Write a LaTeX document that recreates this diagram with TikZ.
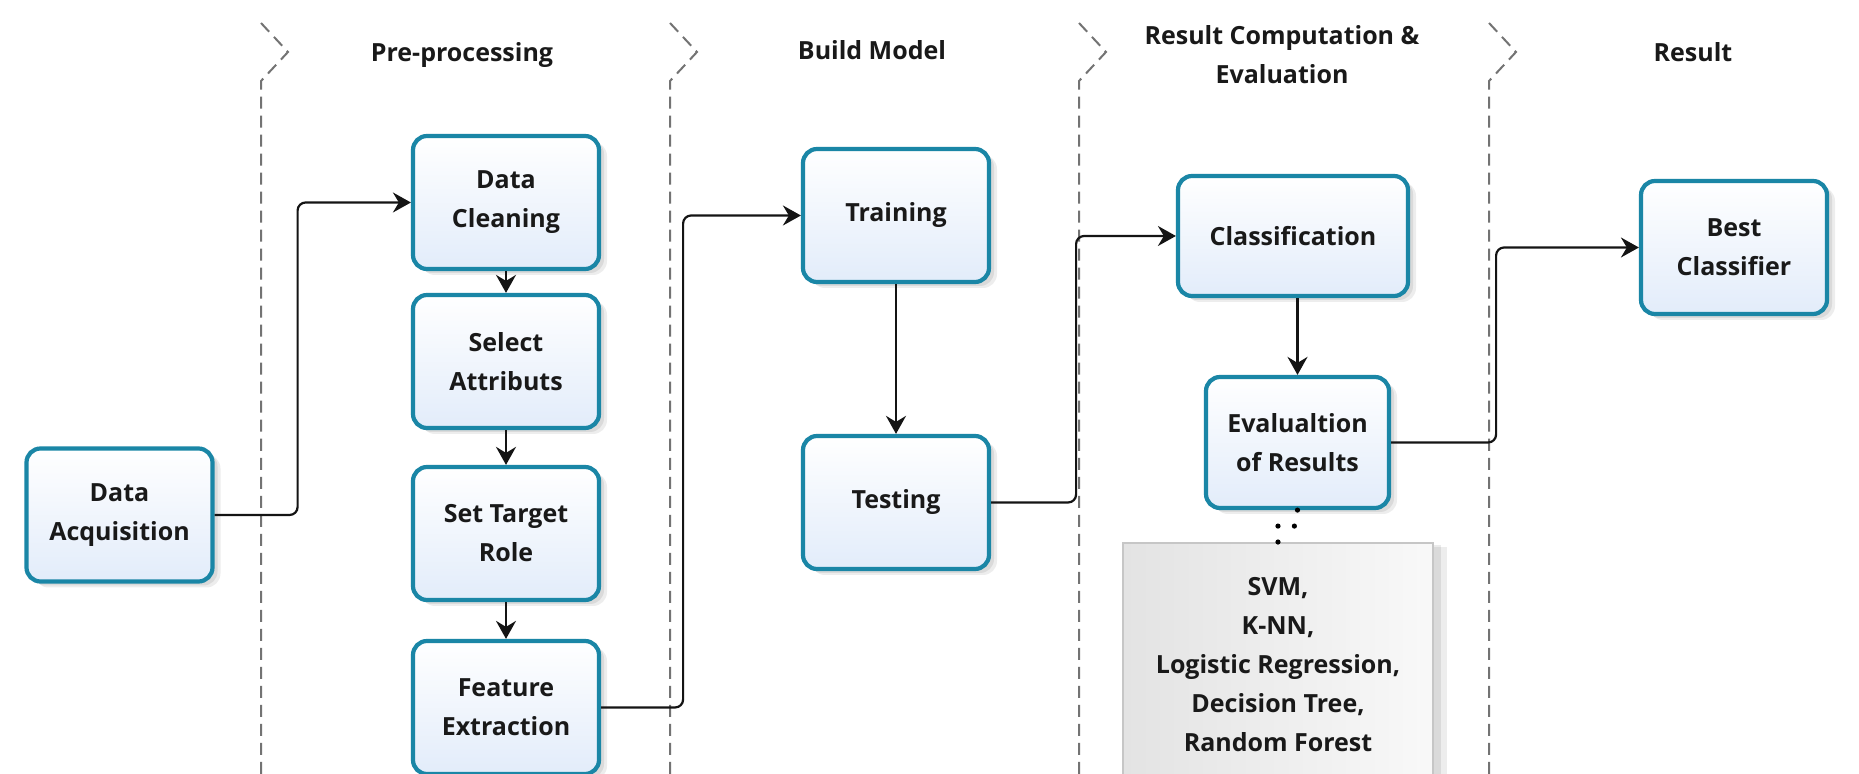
\documentclass[tikz,border=0pt]{standalone}
\usepackage{fontspec}
\setmainfont{Open Sans}
\usetikzlibrary{arrows.meta,shadows,calc}
\definecolor{boxedge}{RGB}{26,134,166}
\definecolor{boxlow}{RGB}{226,236,250}
\definecolor{lanegray}{RGB}{115,115,115}
\definecolor{conncol}{RGB}{20,20,20}
\definecolor{txtcol}{RGB}{25,25,25}
\begin{document}
\begin{tikzpicture}[x=0.5pt,y=-0.5pt,
  txt/.style={font=\bfseries\fontsize{12.5}{19.5}\selectfont, text=txtcol, align=center},
  proc/.style={txt, draw=boxedge, line width=2.1pt, rounded corners=7pt,
    top color=white, bottom color=boxlow, inner sep=0pt,
    minimum width=93pt, minimum height=66.5pt,
    general shadow={shadow xshift=4pt, shadow yshift=-3pt, fill=black, opacity=0.07},
    general shadow={shadow xshift=2.5pt, shadow yshift=-2pt, fill=black, opacity=0.08}},
  algbox/.style={txt, draw=gray!45, line width=0.6pt, left color=gray!22, right color=gray!5,
    minimum width=155pt, minimum height=122pt, inner sep=0pt,
    general shadow={shadow xshift=7pt, shadow yshift=-2pt, fill=black, opacity=0.07},
    general shadow={shadow xshift=4pt, shadow yshift=-1pt, fill=black, opacity=0.08}},
  hdr/.style={txt, inner sep=0pt},
  lane/.style={draw=lanegray, line width=1pt, dash pattern=on 6pt off 3.5pt},
  conn/.style={draw=conncol, line width=1.1pt, rounded corners=4pt,
    -{Stealth[length=9pt,width=10pt,inset=3pt]}},
  dotline/.style={draw=black, line width=2.6pt, line cap=round, dash pattern=on 0pt off 8.2pt}
]
\useasboundingbox (0,0) rectangle (1859,774);
\fill[white] (0,0) rectangle (1859,774);

% lane separators with chevrons
\foreach \lx in {261,670,1079,1489}{
  \draw[lane] (\lx,23) -- (\lx+27,52) -- (\lx,81) -- (\lx,790);
}

% lane headers
\node[hdr, anchor=base] (h1) at (462,62) {Pre-processing};
\node[hdr, anchor=base] (h2) at (872,60) {Build Model};
\node[hdr, anchor=north] (h3) at (1282,25) {Result Computation \&\\Evaluation};
\node[hdr, anchor=base] (h4) at (1693,62) {Result};

% process boxes
\node[proc] (acq) at (119.5,515) {Data\\Acquisition};
\node[proc] (clean) at (506,202.5) {Data\\Cleaning};
\node[proc] (select) at (506,361.5) {Select\\Attributs};
\node[proc] (target) at (506,533.5) {Set Target\\Role};
\node[proc] (feature) at (506,707.5) {Feature\\Extraction};
\node[proc] (train) at (896,215.5) {Training};
\node[proc] (test) at (896,502.5) {Testing};
\node[proc, minimum width=115pt, minimum height=60pt] (classif) at (1293,236) {Classification};
\node[proc, minimum width=91.5pt, minimum height=65.5pt] (eval) at (1297.5,442.5) {Evalualtion\\of Results};
\node[proc] (best) at (1734,247.5) {Best\\Classifier};
\node[algbox] (alg) at (1278,665) {SVM,\\K-NN,\\Logistic Regression,\\Decision Tree,\\Random Forest};

% connectors
\draw[conn] (acq.east) -- ++(83,0) |- (clean.west);
\draw[conn] (clean.south) -- (select.north);
\draw[conn] (select.south) -- (target.north);
\draw[conn] (target.south) -- (feature.north);
\draw[conn] (feature.east) -- ++(82,0) |- (train.west);
\draw[conn] (train.south) -- (test.north);
\draw[conn] (test.east) -- ++(85,0) |- (classif.west);
\draw[conn] (classif.south -| eval.north) -- (eval.north);
\draw[conn] (eval.east) -- ++(105,0) |- (best.west);
\draw[dotline] (eval.south) -- ++(-3,16) -- ++(-17,0) -- (alg.north);
\end{tikzpicture}
\end{document}
